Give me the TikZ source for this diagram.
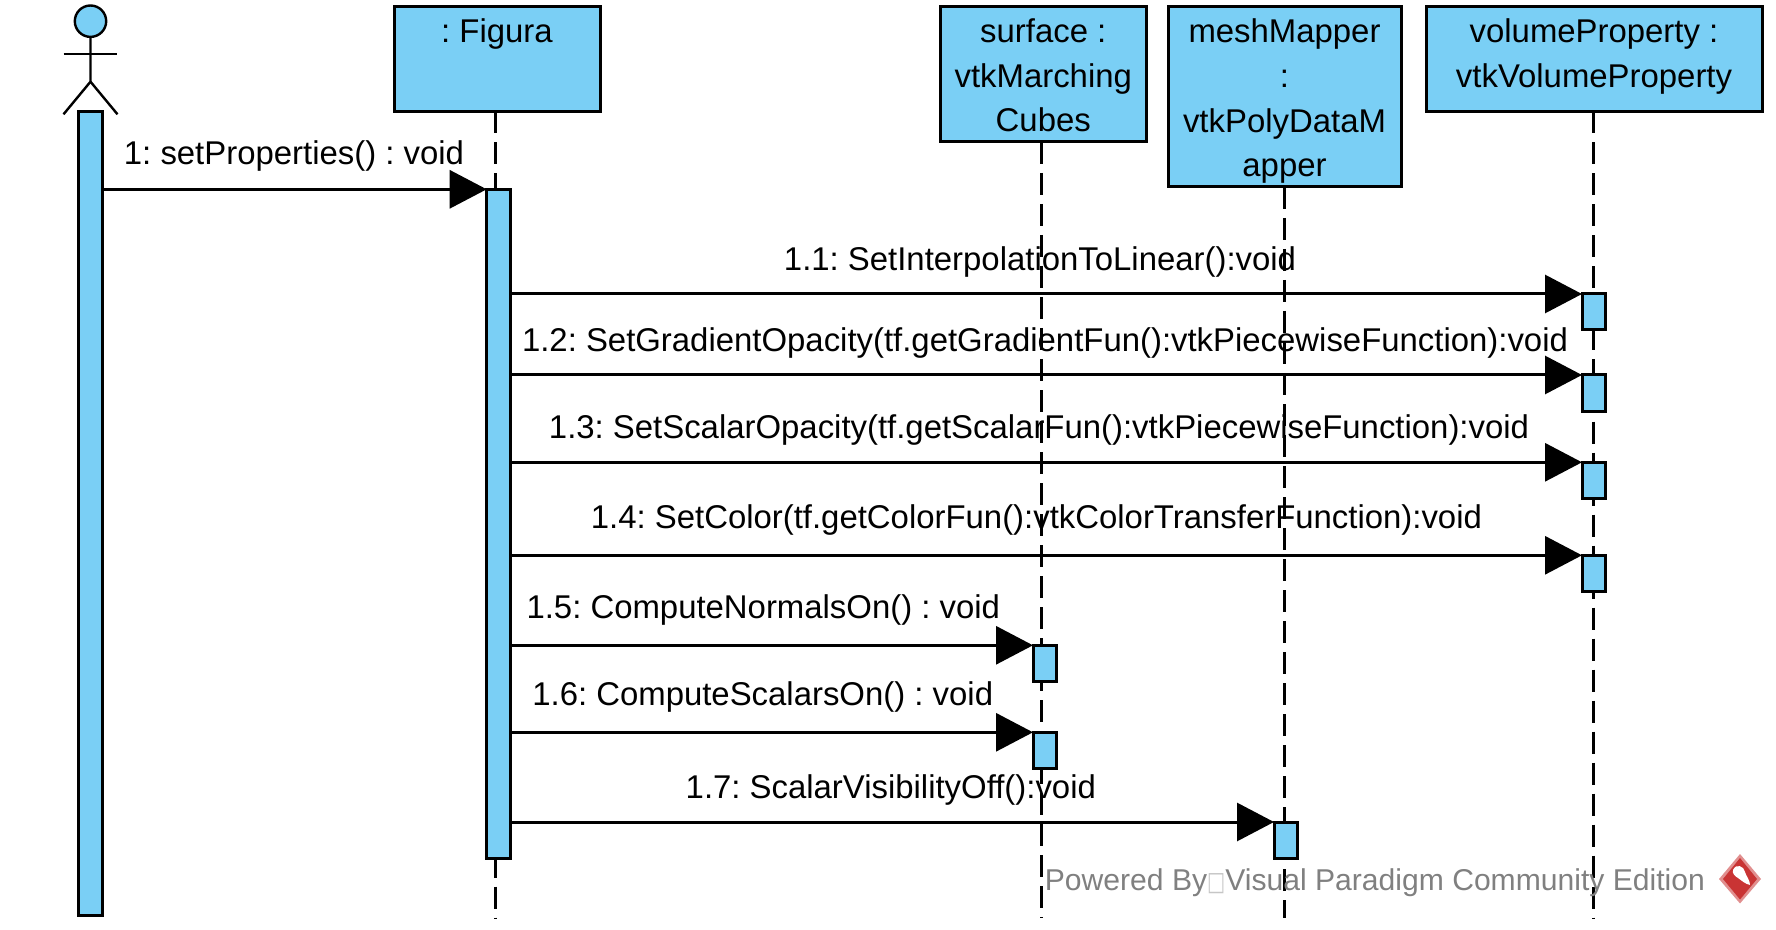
\documentclass[tikz,border=0pt]{standalone}
\usepackage{fontspec}
\setmainfont{Liberation Sans}
\newfontfamily\symfont{DejaVu Sans}
\usetikzlibrary{arrows.meta,positioning,calc}
\definecolor{vpblue}{HTML}{7ACFF5}
\definecolor{vpred}{HTML}{C93434}
\newcommand{\headtxt}[2]{\rule{0pt}{16.55pt}#2\rule[-#1]{0pt}{#1}}
\frenchspacing
\tikzset{
  headbox/.style={draw, line width=1.5pt, fill=vpblue, align=center, inner sep=0pt, outer sep=0pt, anchor=north west},
  actbar/.style={draw, line width=1.5pt, fill=vpblue, inner sep=0pt, outer sep=0pt, anchor=north west, minimum width=11.8pt},
  callbar/.style={actbar, minimum height=18pt},
  lifeline/.style={line width=1.3pt, dash pattern=on 11pt off 4.5pt},
  msg/.style={line width=1.5pt, -{Triangle[length=18.5pt,width=19pt]}},
  msgtxt/.style={anchor=base, inner sep=0pt},
}
\begin{document}
\begin{tikzpicture}[x=0.5pt, y=-0.5pt, font=\fontsize{16.45pt}{22.4pt}\selectfont]
    \useasboundingbox (0,0) rectangle (1776,930);
    \node[headbox, minimum width=103pt, minimum height=52.5pt] (fig) at (394,6.5) {\headtxt{10.75pt}{: Figura\\ }};
    \node[headbox, minimum width=103.25pt, minimum height=67.75pt, right=170pt of fig.north east, anchor=north west] (surf) {\headtxt{3.6pt}{surface :\\vtkMarching\\Cubes}};
    \node[headbox, minimum width=116.5pt, minimum height=90.25pt, right=10.75pt of surf.north east, anchor=north west] (mesh) {\headtxt{3.6pt}{meshMapper\\:\\vtkPolyDataM\\apper}};
    \node[headbox, minimum width=168pt, minimum height=52.5pt, right=12.5pt of mesh.north east, anchor=north west] (vol) {\headtxt{10.75pt}{volumeProperty :\\vtkVolumeProperty}};
    \coordinate (figEnd) at (495.3,918);
    \coordinate (surfEnd) at (1041.5,918);
    \coordinate (meshEnd) at (1284.3,918);
    \coordinate (volEnd) at (1593.3,918);
    \draw[lifeline] (fig.south -| figEnd) -- (figEnd);
    \draw[lifeline] (surf.south -| surfEnd) -- (surfEnd);
    \draw[lifeline] (mesh.south -| meshEnd) -- (meshEnd);
    \draw[lifeline] (vol.south -| volEnd) -- (volEnd);
    \node[draw, circle, line width=1.2pt, fill=vpblue, inner sep=0pt, outer sep=0pt, minimum size=15.7pt] (head) at (90.5,21.2) {};
    \draw[line width=1.2pt] (head.south) -- ++(0,44.8) coordinate (hip) -- ++(-27,32.6);
    \draw[line width=1.2pt] (hip) -- ++(27,32.6);
    \draw[line width=1.2pt] (63.5,54.3) -- (117,54.3);
    \node[actbar, minimum height=401.85pt] (actorBar) at (78.7,111.7) {};
    \node[actbar, minimum height=334.35pt] (figBar) at (486.7,189.3) {};
    \node[callbar] (vol1) at (1582,294) {};
    \node[callbar] (vol2) at (1582,375) {};
    \node[callbar] (vol3) at (1582,462.3) {};
    \node[callbar] (vol4) at (1582,555.3) {};
    \node[callbar] (surf1) at (1033,645.3) {};
    \node[callbar] (surf2) at (1033,732.3) {};
    \node[callbar] (mesh1) at (1274,822) {};
    \draw[msg] (actorBar.east |- figBar.north west) -- (figBar.north west);
    \draw[msg] (figBar.east |- vol1.north west) -- (vol1.north west);
    \draw[msg] (figBar.east |- vol2.north west) -- (vol2.north west);
    \draw[msg] (figBar.east |- vol3.north west) -- (vol3.north west);
    \draw[msg] (figBar.east |- vol4.north west) -- (vol4.north west);
    \draw[msg] (figBar.east |- surf1.north west) -- (surf1.north west);
    \draw[msg] (figBar.east |- surf2.north west) -- (surf2.north west);
    \draw[msg] (figBar.east |- mesh1.north west) -- (mesh1.north west);
    \node[msgtxt] (txt1) at (294,165) {1: setProperties() : void};
    \node[msgtxt] (txt11) at (1040,271) {1.1: SetInterpolationToLinear():void};
    \node[msgtxt] (txt12) at (1045,351) {1.2: SetGradientOpacity(tf.getGradientFun():vtkPiecewiseFunction):void};
    \node[msgtxt] (txt13) at (1039,438) {1.3: SetScalarOpacity(tf.getScalarFun():vtkPiecewiseFunction):void};
    \node[msgtxt] (txt14) at (1036.4,528) {1.4: SetColor(tf.getColorFun():vtkColorTransferFunction):void};
    \node[msgtxt] (txt15) at (763.3,618) {1.5: ComputeNormalsOn() : void};
    \node[msgtxt] (txt16) at (762.7,705) {1.6: ComputeScalarsOn() : void};
    \node[msgtxt] (txt17) at (890.8,798) {1.7: ScalarVisibilityOff():void};
    \node[anchor=base west, inner sep=0pt, text=gray, font=\fontsize{15.05pt}{17pt}\selectfont] (mark) at (1044.5,890.7) {Powered By{\symfont\fontsize{12pt}{14pt}\selectfont\textcolor{gray!45}{\scalebox{0.8}[1.1]{□}}}Visual Paradigm Community Edition};
    \fill[vpred!55] (1740,854) -- (1761,879) -- (1740,903.5) -- (1719,879) -- cycle;
    \fill[vpred] (1740,858) -- (1757,879) -- (1740,899.5) -- (1723,879) -- cycle;
    \fill[white] (1733,870) .. controls (1736,863) and (1744,866) .. (1745,872) .. controls (1746,876) and (1750,880) .. (1750,885) .. controls (1745,884) and (1741,880) .. (1738,878) .. controls (1735,876) and (1732,874) .. (1733,870);
  \end{tikzpicture}
\end{document}
